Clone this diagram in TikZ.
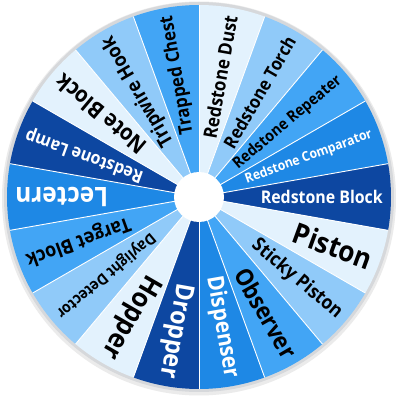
\documentclass[tikz,border=0pt]{standalone}
\usepackage{fontspec}
\setmainfont{Open Sans}
\definecolor{cA}{HTML}{E3F2FD}
\definecolor{cB}{HTML}{90CAF9}
\definecolor{cC}{HTML}{42A5F5}
\definecolor{cD}{HTML}{1E88E5}
\definecolor{cE}{HTML}{0D47A1}
\definecolor{rim}{HTML}{D6D8DB}
\tikzset{
  seg/.style={draw=white, line width=0.9pt},
  lbl/.style={anchor=east, inner sep=0pt, font=\bfseries},
}
\newcommand{\wlabel}[5]{% angle, fill, textcolor, width, text
  \fill[#2] (0,0) -- ({#1+10}:192) arc[start angle={#1+10}, end angle={#1-10}, radius=192] -- cycle;
  \node[lbl, text=#3, rotate=#1] (n#1) at (#1:184) {\scalebox{1}[1.1]{\resizebox{#4pt}{!}{#5}}};
}
\begin{document}
\begin{tikzpicture}[x=1pt,y=1pt]
\useasboundingbox (0,0) rectangle (400,400);
\fill[white] (0,0) rectangle (400,400);
\begin{scope}[shift={(199,203)}]
\fill[black!8] (0,-1.5) circle[radius=197];
\fill[rim] (0,0) circle[radius=195];
\wlabel{80}{cA}{black}{124}{Redstone Dust}
\wlabel{60}{cB}{black}{126}{Redstone Torch}
\wlabel{40}{cC}{black}{136}{Redstone Repeater}
\wlabel{20}{cD}{white}{134}{Redstone Comparator}
\wlabel{0}{cE}{white}{122}{Redstone Block}
\wlabel{-20}{cA}{black}{82}{Piston}
\wlabel{-40}{cB}{black}{112}{Sticky Piston}
\wlabel{-60}{cC}{black}{100}{Observer}
\wlabel{-80}{cD}{white}{103}{Dispenser}
\wlabel{-100}{cE}{white}{96}{Dropper}
\wlabel{-120}{cA}{black}{92}{Hopper}
\wlabel{-140}{cB}{black}{124}{Daylight Detector}
\wlabel{-160}{cC}{black}{110}{Target Block}
\wlabel{-180}{cD}{white}{93}{Lectern}
\wlabel{-200}{cE}{white}{124}{Redstone Lamp}
\wlabel{-220}{cA}{black}{111}{Note Block}
\wlabel{-240}{cB}{black}{124}{Tripwire Hook}
\wlabel{-260}{cC}{black}{120}{Trapped Chest}
\foreach \a in {90,70,...,-250} \draw[seg] (0,0) -- (\a:192);
\fill[white] (0,0) circle[radius=25];
\end{scope}
\end{tikzpicture}
\end{document}
